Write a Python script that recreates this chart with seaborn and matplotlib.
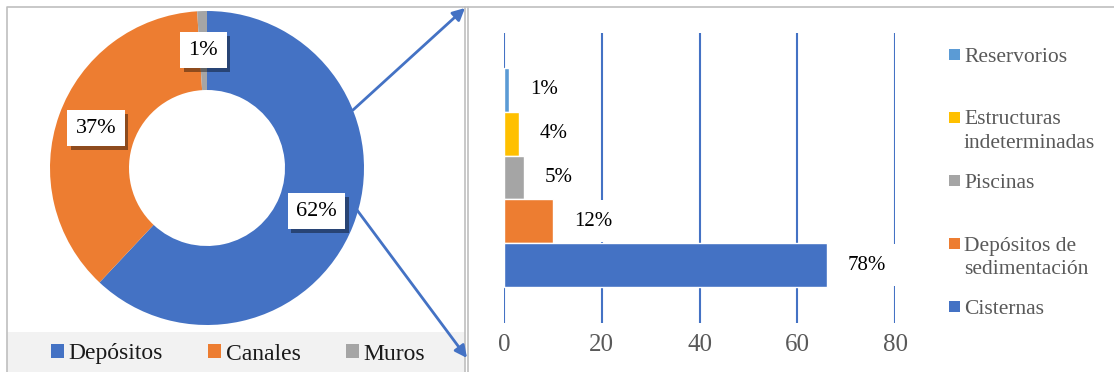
import matplotlib
matplotlib.use('Agg')
import matplotlib.pyplot as plt
import matplotlib.patheffects as pe
from matplotlib.patches import Rectangle
import seaborn as sns

# ---------------------------------------------------------------------------
# Data
# ---------------------------------------------------------------------------
donut_labels = ['Depósitos', 'Canales', 'Muros']
donut_values = [62, 37, 1]
donut_colors = ['#4472C4', '#ED7D31', '#A5A5A5']

bar_categories = ['Reservorios', 'Estructuras\nindeterminadas', 'Piscinas',
                  'Depósitos de\nsedimentación', 'Cisternas']
bar_values = [1, 3, 4, 10, 66]
bar_pct_labels = ['1%', '4%', '5%', '12%', '78%']
bar_colors = ['#5B9BD5', '#FFC000', '#A5A5A5', '#ED7D31', '#4472C4']
x_ticks = [0, 20, 40, 60, 80]

W, H = 1114, 372

sns.set_theme(style='white')
plt.rcParams['font.family'] = ['Liberation Serif', 'DejaVu Serif']

fig = plt.figure(figsize=(W / 100, H / 100), dpi=100)

# background axes in pixel coordinates (y up)
bg = fig.add_axes([0, 0, 1, 1])


def Y(y):
    return H - y


# ---------------------------------------------------------------------------
# Donut
# ---------------------------------------------------------------------------
wedges, _, autotexts = bg.pie(donut_values, colors=donut_colors, startangle=90,
                              counterclock=False, center=(207, Y(168)), radius=157,
                              wedgeprops=dict(width=79, edgecolor='none'),
                              autopct='%1.0f%%', pctdistance=0.75,
                              textprops=dict(fontsize=16, color='black'))
for t in autotexts:
    t.set_bbox(dict(boxstyle='square,pad=0.38', fc='white', ec='none'))
    t.get_bbox_patch().set_path_effects([
        pe.SimplePatchShadow(offset=(2.5, -2.5), shadow_rgbFace='black', alpha=0.4),
        pe.Normal()])

bg.set_xlim(0, W)
bg.set_ylim(0, H)
bg.axis('off')

# legend band + donut legend
bg.add_patch(Rectangle((7, 0), 458, 40, fc='#F2F2F2', ec='none', zorder=0))
bg.legend(wedges, donut_labels, ncol=3, loc='center',
          bbox_to_anchor=(238 / W, Y(354) / H), frameon=False, fontsize=17,
          handlelength=0.55, handleheight=0.55, handletextpad=0.2,
          columnspacing=1.9, borderaxespad=0, labelcolor='#1a1a1a')

# panel borders
bg.plot([7, 7, 465, 465], [0, Y(7), Y(7), 0], color='#BFBFBF', lw=1.2)
bg.plot([468, 468], [0, Y(7)], color='#BFBFBF', lw=1.2)
bg.plot([465, W], [Y(7), Y(7)], color='#BFBFBF', lw=1.2)

# connector arrows
arrow_kw = dict(arrowstyle='-|>', color='#4472C4', lw=2, mutation_scale=18,
                shrinkA=0, shrinkB=0)
bg.annotate('', xy=(465, Y(8)), xytext=(353, Y(110)), arrowprops=arrow_kw)
bg.annotate('', xy=(467, Y(358)), xytext=(357, Y(210)), arrowprops=arrow_kw)

# ---------------------------------------------------------------------------
# Horizontal bars
# ---------------------------------------------------------------------------
ax = fig.add_axes([504 / W, (H - 323) / H, (895 - 504) / W, (323 - 33) / H])
ax.patch.set_alpha(0)
sns.barplot(x=bar_values, y=bar_categories, hue=bar_categories,
            palette=bar_colors, orient='h', width=1.0, saturation=1,
            legend=False, ax=ax)
ax.set_xlim(0, 80)
ax.set_ylim(5.32, -1.3)
ax.set_xticks(x_ticks)
ax.set_yticks([])
ax.set_xlabel('')
ax.set_ylabel('')
ax.grid(axis='x', color='#4472C4', lw=1.5)
ax.set_axisbelow(True)
for s in ax.spines.values():
    s.set_visible(False)
ax.tick_params(axis='x', labelsize=18, labelcolor='#595959', length=0, pad=8)

for cont, lab in zip(ax.containers, bar_pct_labels):
    for t in ax.bar_label(cont, labels=[lab], padding=15, fontsize=15, color='black'):
        t.set_bbox(dict(boxstyle='square,pad=0.55', fc='white', ec='none'))

# bar legend (entries evenly spaced, swatch aligned with the first line)
for i, (cat, col) in enumerate(zip(bar_categories, bar_colors)):
    yc = 54.5 + i * 63
    bg.add_patch(Rectangle((949, Y(yc) - 5.5), 11, 11, fc=col, ec='none'))
    for j, line in enumerate(cat.split('\n')):
        bg.text(964, Y(yc + j * 24), line, va='center_baseline', ha='left',
                fontsize=15.5, color='#595959')

plt.savefig('out.png', dpi=100)
